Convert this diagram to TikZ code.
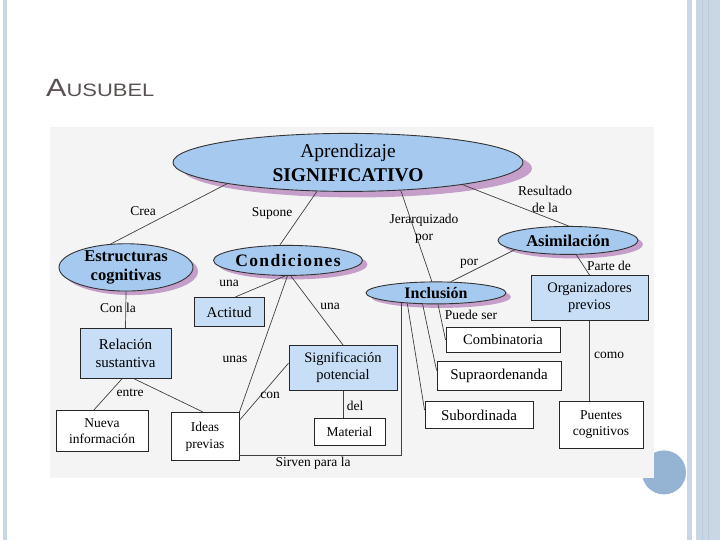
\documentclass[tikz,border=0pt]{standalone}
\usepackage{fontspec}
\setmainfont{Liberation Serif}
\newfontfamily\titulo{Liberation Sans}
\usetikzlibrary{shapes.geometric,shadows}
\definecolor{azul}{HTML}{A6C9EF}
\definecolor{celeste}{HTML}{C8DEF6}
\definecolor{sombra}{HTML}{C59FC9}
\definecolor{fondo}{HTML}{F4F4F4}
\definecolor{marco}{HTML}{C9D7E4}
\definecolor{marcob}{HTML}{B9CADB}
\definecolor{bola}{HTML}{95B4D3}
\definecolor{gris}{HTML}{5A5252}

\begin{document}
\begin{tikzpicture}[x=1pt,y=-1pt,
    elip/.style 2 args={ellipse,draw=black!80,line width=0.9pt,fill=azul,inner sep=0pt,align=center,
        drop shadow={shadow xshift=#1,shadow yshift=#2,fill=sombra,opacity=1}},
    caja/.style={rectangle,draw=black!85,line width=0.9pt,inner sep=0pt,align=center,fill=white},
    etiq/.style={inner sep=0pt,align=center,font=\fontsize{13.5}{17}\selectfont},
    linea/.style={draw=black!75,line width=0.7pt}]
        % diapositiva
        \fill[white] (0,0) rectangle (720,540);
        \fill[marco] (3,0) rectangle (7,540);
        \fill[marco] (687,0) rectangle (692,540);
        \fill[marco] (696,0) rectangle (720,540);
        \draw[marcob,line width=0.8pt] (702,0) -- (702,540);
        \draw[marcob,line width=0.8pt] (708,0) -- (708,540);
        \fill[bola] (664,472) circle (22);
        \fill[fondo] (50,127) rectangle (654,478);
        \node[anchor=base west,inner sep=0pt,text=gris] (tit) at (46,96)
            {\titulo\scalebox{1.22}[1]{\fontsize{25}{25}\selectfont A\fontsize{18}{18}\selectfont USUBEL}};

        % elipses
        \node[elip={9pt}{-6pt},minimum width=350,minimum height=58,font=\fontsize{19.5}{24}\selectfont] (ap) at (348,162)
            {Aprendizaje\\\textbf{SIGNIFICATIVO}};
        \node[elip={5pt}{-4pt},minimum width=134,minimum height=44,font=\bfseries\fontsize{16.5}{19}\selectfont] (es) at (126,267)
            {Estructuras\\cognitivas};
        \node[elip={5pt}{-4pt},minimum width=142,minimum height=30,font=\bfseries\fontsize{17.5}{19}\selectfont\addfontfeature{LetterSpace=8}] (co) at (288,260)
            {Condiciones};
        \node[elip={5pt}{-4pt},minimum width=140,minimum height=28,font=\bfseries\fontsize{16.5}{19}\selectfont] (as) at (568,240)
            {Asimilación};
        \node[elip={5pt}{-4pt},minimum width=140,minimum height=22,font=\bfseries\fontsize{16}{19}\selectfont] (in) at (436,292.5)
            {Inclusión};

        % cajas
        \node[caja,fill=celeste,minimum width=117,minimum height=45,font=\fontsize{14.5}{17}\selectfont] (org) at (589.5,297.5) {Organizadores\\previos};
        \node[caja,fill=celeste,minimum width=91,minimum height=50,font=\fontsize{15}{18}\selectfont] (rel) at (125.5,353) {Relación\\sustantiva};
        \node[caja,fill=celeste,minimum width=70,minimum height=29,font=\fontsize{15}{18}\selectfont] (act) at (229,311.5) {Actitud};
        \node[caja,fill=celeste,minimum width=108,minimum height=45,font=\fontsize{14.5}{17}\selectfont] (sig) at (343,367.5) {Significación\\potencial};
        \node[caja,minimum width=92,minimum height=41,font=\fontsize{13.5}{16}\selectfont] (nue) at (102,430.5) {Nueva\\información};
        \node[caja,minimum width=68,minimum height=48,font=\fontsize{13.5}{17}\selectfont] (ide) at (205,436) {Ideas\\previas};
        \node[caja,minimum width=71,minimum height=27,font=\fontsize{13.5}{16}\selectfont] (mat) at (349.5,431.5) {Material};
        \node[caja,minimum width=114,minimum height=25,font=\fontsize{14.5}{17}\selectfont] (com) at (503,339.5) {Combinatoria};
        \node[caja,minimum width=124,minimum height=29,font=\fontsize{15}{17}\selectfont] (sup) at (499,375.5) {Supraordenanda};
        \node[caja,minimum width=108,minimum height=27,font=\fontsize{15}{17}\selectfont] (sub) at (479,414.5) {Subordinada};
        \node[caja,minimum width=84,minimum height=47,font=\fontsize{13.5}{16}\selectfont] (pue) at (601,424.5) {Puentes\\cognitivos};

        % conectores
        \draw[linea] (ap.190) -- (es.123);
        \draw[linea] (ap.223) -- (co.118);
        \draw[linea] (ap.332) -- (in.110);
        \draw[linea] (ap.349) -- (as.88);
        \draw[linea] (as.190) -- (in.37);
        \draw[linea] (as.300) -- (org.north);
        \draw[linea] (es.south) -- (rel.north);
        \draw[linea] (rel.262) -- (nue.111);
        \draw[linea] (rel.289) -- (ide.95);
        \draw[linea] (co.260) -- (act.67);
        \draw[linea] (co.268) -- (ide.north east);
        \draw[linea] (co.280) -- (sig.north);
        \draw[linea] (sig.175) -- (ide.25);
        \draw[linea] (sig.south) -- (sig.south |- mat.north);
        \draw[linea] ([yshift=-19pt]ide.east) -| (in.196);
        \draw[linea] (in.280) -- (com.west);
        \draw[linea] (in.220) -- (sup.175);
        \draw[linea] (in.200) -- (sub.175);
        \draw[linea] (org.south) -- (org.south |- pue.north);

        % etiquetas
        \node[etiq] (l1) at (143,211) {Crea};
        \node[etiq] (l2) at (272,213) {Supone};
        \node[etiq] (l3) at (424,228) {Jerarquizado\\por};
        \node[etiq] (l4) at (545,199) {Resultado\\de la};
        \node[etiq] (l5) at (469,263) {por};
        \node[etiq] (l6) at (609,265) {Parte de};
        \node[etiq] (l7) at (118,307) {Con la};
        \node[etiq] (l8) at (130,392) {entre};
        \node[etiq] (l9) at (229,283) {una};
        \node[etiq] (l10) at (330,306) {una};
        \node[etiq] (l11) at (235,359) {unas};
        \node[etiq] (l12) at (270,395) {con};
        \node[etiq] (l13) at (355,405) {del};
        \node[etiq] (l14) at (313,463) {Sirven para la};
        \node[etiq] (l15) at (471,314) {Puede ser};
        \node[etiq] (l16) at (609,355) {como};
    \end{tikzpicture}
\end{document}
